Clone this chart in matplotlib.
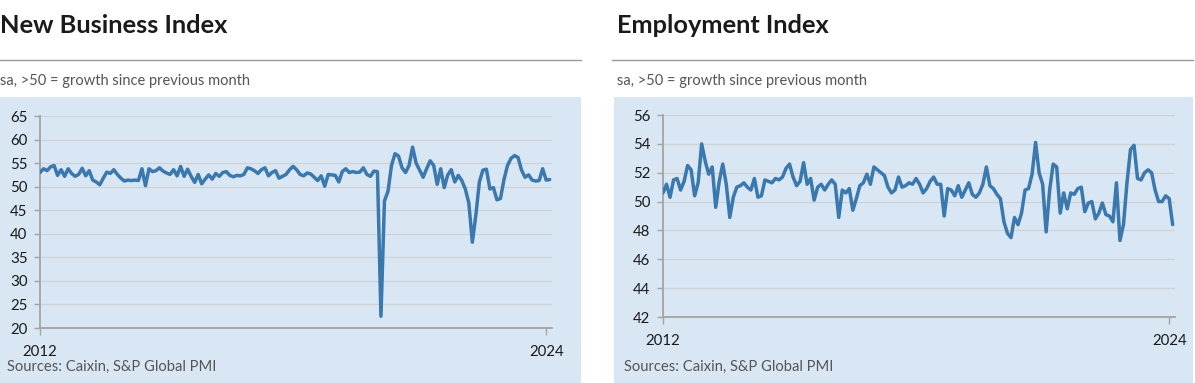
import matplotlib
matplotlib.use("Agg")
import matplotlib.pyplot as plt
from matplotlib.patches import Rectangle
from matplotlib.lines import Line2D

# ---------------- data (monthly, Jan 2012 onwards) ----------------
new_business = [
    53.0, 53.8, 53.4, 54.2, 54.5, 52.4, 53.6, 52.2, 53.8, 52.8,
    52.2, 52.6, 53.9, 52.3, 53.4, 51.4, 51.0, 50.4, 51.8, 53.1,
    52.8, 53.6, 52.6, 51.8, 51.2, 51.4, 51.3, 51.4, 51.3, 53.8,
    50.2, 53.8, 53.2, 53.4, 54.0, 53.3, 52.9, 52.6, 53.6, 52.3,
    54.3, 52.2, 53.7, 52.2, 50.9, 52.6, 50.6, 51.6, 52.5, 51.6,
    52.8, 52.2, 53.0, 53.2, 52.4, 52.1, 52.4, 52.3, 52.6, 54.0,
    53.8, 53.4, 52.8, 53.6, 54.0, 52.3, 53.0, 53.4, 51.8, 52.2,
    52.6, 53.6, 54.3, 53.6, 52.6, 52.3, 52.9, 52.7, 52.0, 51.3,
    52.3, 50.1, 52.6, 52.5, 52.4, 51.0, 53.2, 53.8, 53.0, 53.2,
    53.0, 53.1, 54.0, 52.6, 52.2, 53.3, 53.2, 22.5, 47.0, 49.0,
    54.5, 57.0, 56.5, 54.0, 53.0, 54.5, 58.4, 55.0, 53.5, 52.0,
    53.8, 55.5, 54.5, 50.5, 53.8, 49.8, 52.5, 53.6, 51.0, 52.4,
    51.3, 49.5, 46.5, 38.2, 44.0, 51.0, 53.5, 53.7, 49.5, 49.8,
    47.2, 47.5, 51.5, 54.5, 56.0, 56.6, 56.2, 53.5, 52.0, 52.5,
    51.4, 51.2, 51.3, 53.8, 51.4, 51.5,
]

employment = [
    50.6, 51.2, 50.3, 51.5, 51.6, 50.8, 51.4, 52.5, 52.2, 50.4,
    51.3, 54.0, 52.8, 51.9, 52.4, 49.6, 51.4, 52.6, 51.2, 48.9,
    50.3, 51.0, 51.1, 51.3, 51.0, 50.8, 51.6, 50.3, 50.4, 51.5,
    51.4, 51.3, 51.6, 51.5, 51.7, 52.3, 52.6, 51.7, 51.1, 51.4,
    52.7, 51.2, 51.6, 50.1, 51.0, 51.2, 50.8, 51.2, 51.5, 51.2,
    48.9, 50.8, 50.6, 50.9, 49.4, 50.2, 51.1, 51.3, 51.9, 51.2,
    52.4, 52.2, 52.0, 51.8, 51.0, 50.6, 50.8, 51.7, 51.0, 51.1,
    51.3, 51.2, 51.6, 51.2, 50.6, 50.9, 51.4, 51.7, 51.2, 51.2,
    49.0, 50.9, 50.8, 50.4, 51.1, 50.3, 50.8, 51.3, 50.5, 50.3,
    50.6, 51.2, 52.4, 51.1, 50.9, 50.5, 50.2, 48.6, 47.8, 47.5,
    48.9, 48.4, 49.2, 50.8, 50.9, 51.9, 54.1, 52.0, 51.2, 47.9,
    50.8, 52.6, 52.4, 49.2, 50.6, 49.5, 50.6, 50.5, 50.9, 51.0,
    49.3, 49.9, 50.0, 48.8, 49.2, 49.9, 49.1, 49.0, 48.6, 51.3,
    47.3, 48.4, 51.3, 53.6, 53.9, 51.6, 51.5, 52.0, 52.2, 52.0,
    50.8, 50.0, 50.0, 50.4, 50.2, 48.4,
]

titles = ["New Business Index", "Employment Index"]
subtitle = "sa, >50 = growth since previous month"
source = "Sources: Caixin, S&P Global PMI"
x_tick_pos = [0, 144]
x_tick_labels = ["2012", "2024"]
nb_yticks = [20, 25, 30, 35, 40, 45, 50, 55, 60, 65]
emp_yticks = [42, 44, 46, 48, 50, 52, 54, 56]

# ---------------- styling ----------------
W, H = 1195, 383
BG = "#d9e7f5"
LINE = "#3a78ad"
GRID = "#cfd3d6"
SPINE = "#a3a3a3"
TXT = "#1a1a1a"
SUB = "#555555"
FONT = "Lato"

plt.rcParams["font.family"] = [FONT, "DejaVu Sans"]

fig = plt.figure(figsize=(W / 100, H / 100), dpi=100)
fig.patch.set_facecolor("white")


def fx(x):
    return x / W


def fy(y):
    return 1 - y / H


panels = [
    dict(x0=0, x1=581, box_x0=0, tx=0, ax_l=40, ax_b=328, ax_t=116,
         data=new_business, yticks=nb_yticks, ylim=(20, 65)),
    dict(x0=612, x1=1193, box_x0=614, tx=617, ax_l=663, ax_b=317, ax_t=115,
         data=employment, yticks=emp_yticks, ylim=(42, 56)),
]

XMAX = 145.6
PX_PER_MONTH = 3.515

for p, title in zip(panels, titles):
    # blue background box
    fig.add_artist(Rectangle((fx(p["box_x0"]), 0), fx(p["x1"]) - fx(p["box_x0"]),
                             fy(97), transform=fig.transFigure,
                             facecolor=BG, edgecolor="none", zorder=-10))
    # rule
    fig.add_artist(Line2D([fx(p["x0"]), fx(p["x1"])], [fy(60), fy(60)],
                          transform=fig.transFigure, color="#9a9a9a", lw=1.0))
    fig.text(fx(p["tx"]), fy(33), title, fontsize=18.3, fontweight="bold",
             color=TXT, va="baseline", ha="left")
    fig.text(fx(p["tx"]), fy(84.5), subtitle, fontsize=10.5, color=SUB,
             va="baseline", ha="left")
    fig.text(fx(p["tx"] + 7), fy(371), source, fontsize=10.6, color=SUB,
             va="baseline", ha="left")

    left = fx(p["ax_l"])
    width = XMAX * PX_PER_MONTH / W
    bottom = fy(p["ax_b"])
    height = fy(p["ax_t"]) - fy(p["ax_b"])
    ax = fig.add_axes([left, bottom, width, height])
    ax.set_facecolor("none")
    ax.plot(range(len(p["data"])), p["data"], color=LINE, lw=2.5,
            solid_joinstyle="round", solid_capstyle="round", zorder=3)
    ax.set_xlim(0, XMAX)
    ax.set_ylim(*p["ylim"])
    ax.set_yticks(p["yticks"])
    ax.set_yticklabels([str(t) for t in p["yticks"]])
    ax.set_xticks(x_tick_pos)
    ax.set_xticklabels(x_tick_labels)
    ax.grid(axis="y", color=GRID, lw=1.0, zorder=0)
    ax.set_axisbelow(True)
    for s in ["top", "right"]:
        ax.spines[s].set_visible(False)
    for s in ["left", "bottom"]:
        ax.spines[s].set_color(SPINE)
        ax.spines[s].set_linewidth(1.3)
    ax.tick_params(axis="y", length=4, width=1, color=SPINE, labelsize=10.8,
                   labelcolor=TXT, pad=5)
    ax.tick_params(axis="x", length=5, width=1, color=SPINE, labelsize=10.8,
                   labelcolor=TXT, pad=7)

fig.savefig("out.png", dpi=100, facecolor="white")
